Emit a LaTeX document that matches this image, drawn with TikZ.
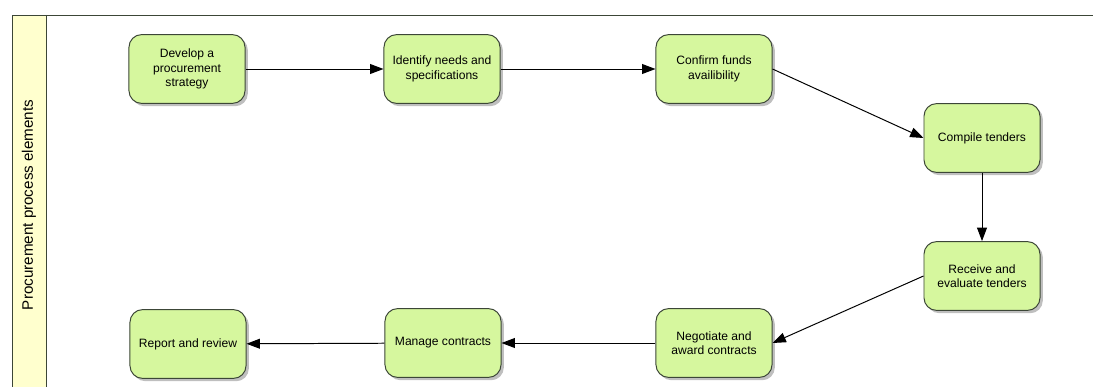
\documentclass[tikz,border=0pt]{standalone}
\usepackage{fontspec}
\setmainfont{Liberation Sans}
\usetikzlibrary{positioning,arrows.meta,shadows}
\definecolor{stepfill}{RGB}{214,247,158}
\definecolor{lanefill}{RGB}{255,255,206}
\definecolor{stepline}{RGB}{60,70,55}
\tikzset{
    stepbox/.style={draw=stepline, fill=stepfill, rounded corners=9pt, line width=0.7pt,
        minimum width=2.9cm, minimum height=1.72cm, align=center, inner sep=2pt,
        font=\fontsize{8.6}{10.2}\selectfont,
        drop shadow={shadow xshift=2pt, shadow yshift=-2pt, opacity=0.25, fill=black}},
    flow/.style={->, line width=0.7pt}
}
\begin{document}
\begin{tikzpicture}[>={Triangle[length=9.5pt,width=7pt]}, x=0.025cm, y=-0.025cm]
    \useasboundingbox (0,0) rectangle (1093,387);
    % lane
    \fill[lanefill] (12,15) rectangle (46,390);
    \draw[line width=0.7pt, stepline] (12,390) -- (12,15) -- (1093,15);
    \draw[line width=0.7pt, stepline] (46,15) -- (46,390);
    \node[rotate=90, font=\fontsize{10.8}{12}\selectfont] (lane) at (29,205) {Procurement process elements};

    % steps, top row
    \node[stepbox] (strategy) at (187,69) {Develop a\\procurement\\strategy};
    \node[stepbox] (needs) at (442,69) {Identify needs and\\specifications};
    \node[stepbox] (funds) at (714,69) {Confirm funds\\availibility};
    % right column
    \node[stepbox] (compile) at (982,138) {Compile tenders};
    \node[stepbox] (receive) at (982,276) {Receive and\\evaluate tenders};
    % bottom row
    \node[stepbox] (negotiate) at (714,343) {Negotiate and\\award contracts};
    \node[stepbox] (manage) at (443,343) {Manage contracts};
    \node[stepbox] (report) at (188,344) {Report and review};

    \draw[flow] (strategy) -- (needs);
    \draw[flow] (needs) -- (funds);
    \draw[flow] (funds.east) -- (compile.west);
    \draw[flow] (compile) -- (receive);
    \draw[flow] (receive.west) -- (negotiate.east);
    \draw[flow] (negotiate) -- (manage);
    \draw[flow] (manage) -- (report);
\end{tikzpicture}
\end{document}
